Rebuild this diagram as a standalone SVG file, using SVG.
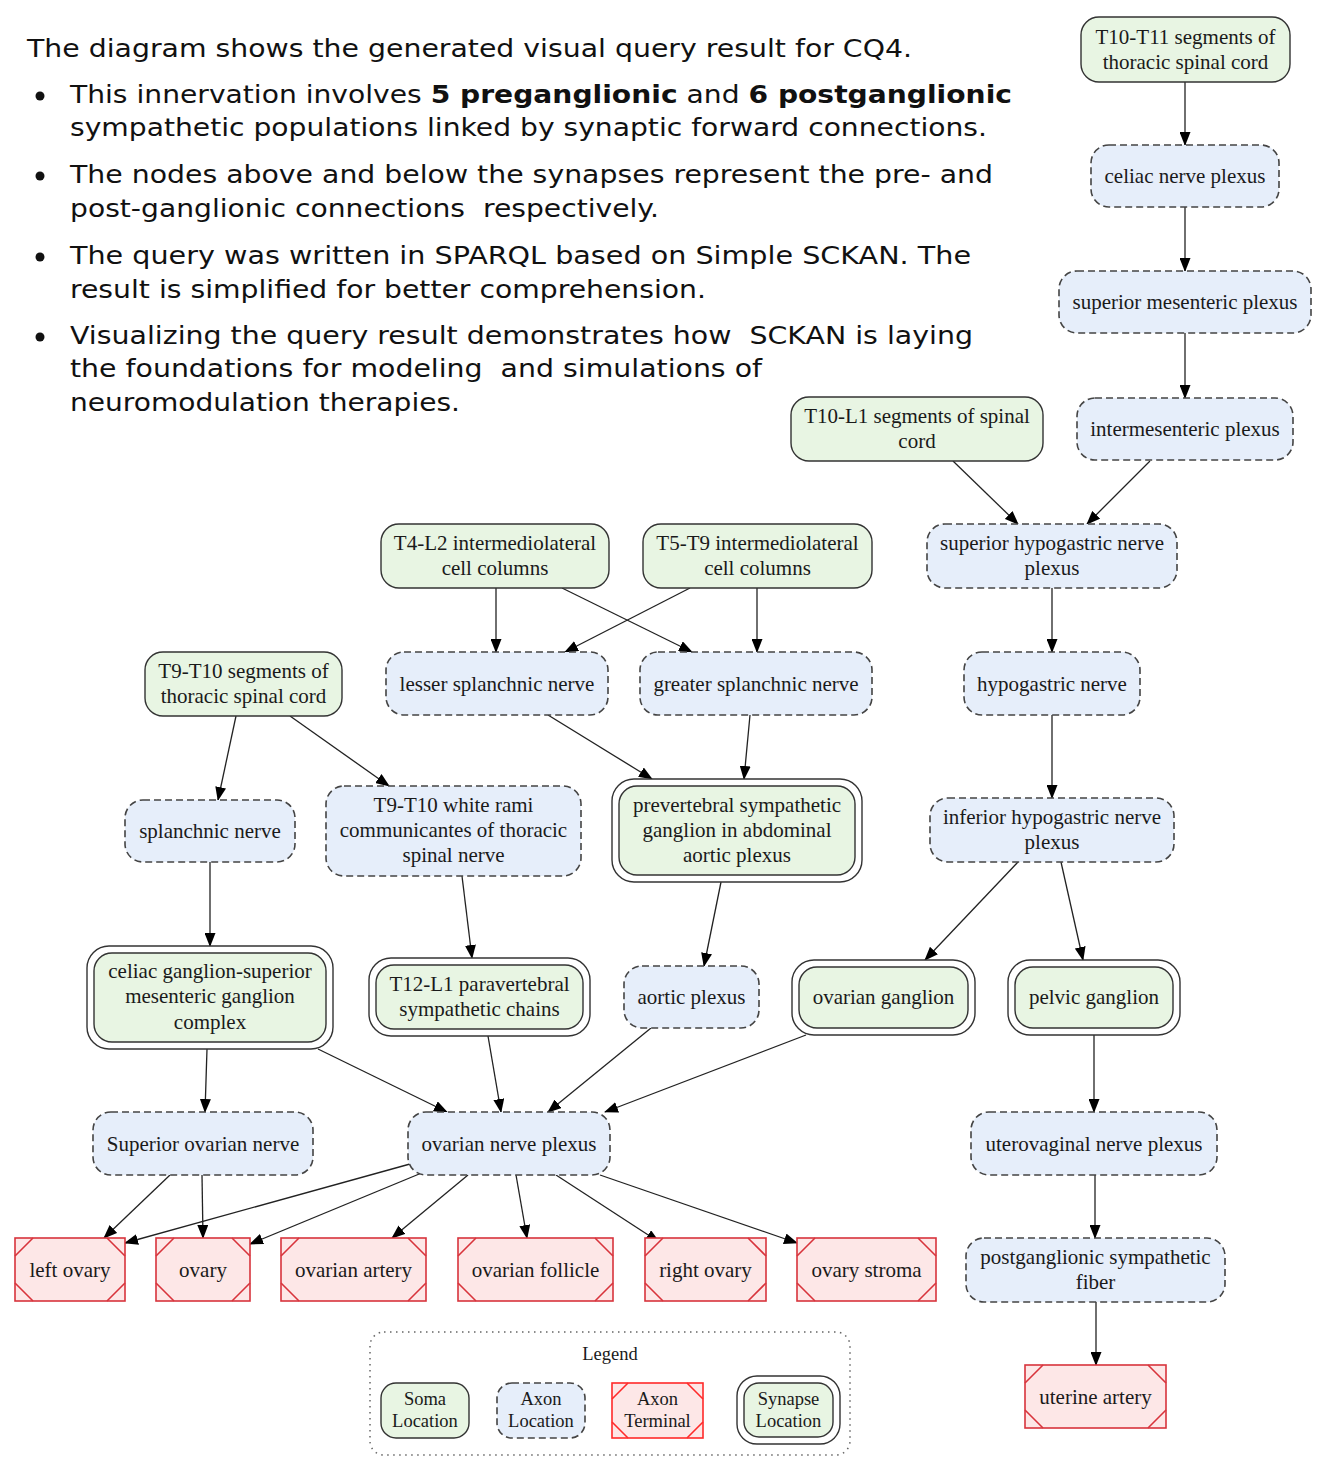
<svg xmlns="http://www.w3.org/2000/svg" width="1325" height="1463" viewBox="0 0 1325 1463">
<style>
.bg{fill:#ffffff}
.intro{font-family:"DejaVu Sans","Liberation Sans",sans-serif;font-size:25px;fill:#111}
.b{font-weight:bold}
.lbl{font-family:"Liberation Serif","Times New Roman",serif;font-size:21px;fill:#1a1a1a;text-anchor:middle}
.lg{font-family:"Liberation Serif","Times New Roman",serif;font-size:18.5px;fill:#1a1a1a;text-anchor:middle}
.soma{fill:#e8f5e3;stroke:#333;stroke-width:1.4}
.axon{fill:#e6eefa;stroke:#444;stroke-width:1.6;stroke-dasharray:7 4}
.synout{fill:#ffffff;stroke:#333;stroke-width:1.4}
.synin{fill:#e8f5e3;stroke:#333;stroke-width:1.4}
.term{fill:#fde7e7;stroke:#d8343c;stroke-width:1.6}
.corner{stroke:#d8343c;stroke-width:1.6;fill:none}
.legterm{fill:#fde7e7;stroke:#ff2a2a;stroke-width:1.6}
.legcorner{stroke:#ff2a2a;stroke-width:1.6;fill:none}
.edge{stroke:#222;stroke-width:1.3;fill:none;marker-end:url(#arr)}
.legbox{fill:none;stroke:#666;stroke-width:1.5;stroke-dasharray:1.5 4.5}
</style>
<defs>
<marker id="arr" markerUnits="userSpaceOnUse" markerWidth="14" markerHeight="11" refX="13" refY="5.5" orient="auto">
<path d="M0,0 L14,5.5 L0,11 z" fill="#000"/>
</marker>
</defs>
<rect class="bg" x="0" y="0" width="1325" height="1463"/>

<g id="intro-text">
<text class="intro" x="27" y="57" textLength="885" lengthAdjust="spacingAndGlyphs">The diagram shows the generated visual query result for CQ4.</text>
<circle cx="40" cy="96" r="4.5" fill="#111"/>
<circle cx="40" cy="176" r="4.5" fill="#111"/>
<circle cx="40" cy="257" r="4.5" fill="#111"/>
<circle cx="40" cy="337" r="4.5" fill="#111"/>
<text class="intro" x="70" y="103" textLength="942" lengthAdjust="spacingAndGlyphs">This innervation involves <tspan class="b">5 preganglionic</tspan> and <tspan class="b">6 postganglionic</tspan></text>
<text class="intro" x="70" y="136" textLength="917" lengthAdjust="spacingAndGlyphs">sympathetic populations linked by synaptic forward connections.</text>
<text class="intro" x="70" y="183" textLength="923" lengthAdjust="spacingAndGlyphs">The nodes above and below the synapses represent the pre- and</text>
<text class="intro" x="70" y="217" textLength="589" lengthAdjust="spacingAndGlyphs" style="white-space:pre">post-ganglionic connections  respectively.</text>
<text class="intro" x="70" y="264" textLength="901" lengthAdjust="spacingAndGlyphs">The query was written in SPARQL based on Simple SCKAN. The</text>
<text class="intro" x="70" y="298" textLength="636" lengthAdjust="spacingAndGlyphs">result is simplified for better comprehension.</text>
<text class="intro" x="70" y="344" textLength="903" lengthAdjust="spacingAndGlyphs" style="white-space:pre">Visualizing the query result demonstrates how  SCKAN is laying</text>
<text class="intro" x="70" y="377" textLength="692" lengthAdjust="spacingAndGlyphs" style="white-space:pre">the foundations for modeling  and simulations of</text>
<text class="intro" x="70" y="411" textLength="390" lengthAdjust="spacingAndGlyphs">neuromodulation therapies.</text>
</g>

<g id="connectors">
<line class="edge" x1="1185" y1="82" x2="1185" y2="145"/>
<line class="edge" x1="1185" y1="207" x2="1185" y2="271"/>
<line class="edge" x1="1185" y1="333" x2="1185" y2="398"/>
<line class="edge" x1="953" y1="461" x2="1018" y2="524"/>
<line class="edge" x1="1150" y1="461" x2="1087" y2="524"/>
<line class="edge" x1="1052" y1="588" x2="1052" y2="652"/>
<line class="edge" x1="1052" y1="715" x2="1052" y2="798"/>
<line class="edge" x1="1018" y1="862" x2="925" y2="960"/>
<line class="edge" x1="1061" y1="862" x2="1083" y2="960"/>
<line class="edge" x1="1094" y1="1035" x2="1094" y2="1112"/>
<line class="edge" x1="1095" y1="1175" x2="1095" y2="1238"/>
<line class="edge" x1="1096" y1="1302" x2="1096" y2="1365"/>
<line class="edge" x1="496" y1="588" x2="496" y2="652"/>
<line class="edge" x1="562" y1="588" x2="692" y2="652"/>
<line class="edge" x1="690" y1="588" x2="565" y2="652"/>
<line class="edge" x1="757" y1="588" x2="757" y2="652"/>
<line class="edge" x1="548" y1="715" x2="652" y2="779"/>
<line class="edge" x1="750" y1="715" x2="744" y2="779"/>
<line class="edge" x1="236" y1="716" x2="218" y2="800"/>
<line class="edge" x1="290" y1="716" x2="389" y2="786"/>
<line class="edge" x1="210" y1="862" x2="210" y2="946"/>
<line class="edge" x1="462" y1="876" x2="472" y2="958"/>
<line class="edge" x1="721" y1="882" x2="704" y2="966"/>
<line class="edge" x1="207" y1="1049" x2="205" y2="1112"/>
<line class="edge" x1="318" y1="1049" x2="447" y2="1112"/>
<line class="edge" x1="488" y1="1036" x2="501" y2="1112"/>
<line class="edge" x1="651" y1="1028" x2="548" y2="1112"/>
<line class="edge" x1="806" y1="1035" x2="605" y2="1112"/>
<line class="edge" x1="170" y1="1175" x2="104" y2="1238"/>
<line class="edge" x1="202" y1="1175" x2="203" y2="1238"/>
<line class="edge" x1="410" y1="1164" x2="125" y2="1243"/>
<line class="edge" x1="424" y1="1172" x2="250" y2="1244"/>
<line class="edge" x1="468" y1="1175" x2="392" y2="1238"/>
<line class="edge" x1="516" y1="1175" x2="527" y2="1238"/>
<line class="edge" x1="556" y1="1175" x2="659" y2="1242"/>
<line class="edge" x1="600" y1="1175" x2="797" y2="1243"/>
</g>

<!-- Soma nodes -->
<g id="n-t10t11">
<rect class="soma" x="1081" y="17" width="209" height="65" rx="18"/>
<text class="lbl" x="1185.5" y="44">T10-T11 segments of</text>
<text class="lbl" x="1185.5" y="69">thoracic spinal cord</text>
</g>
<g id="n-t10l1">
<rect class="soma" x="791" y="397" width="252" height="64" rx="18"/>
<text class="lbl" x="917" y="423">T10-L1 segments of spinal</text>
<text class="lbl" x="917" y="448">cord</text>
</g>
<g id="n-t4l2">
<rect class="soma" x="381" y="524" width="228" height="64" rx="18"/>
<text class="lbl" x="495" y="550">T4-L2 intermediolateral</text>
<text class="lbl" x="495" y="575">cell columns</text>
</g>
<g id="n-t5t9">
<rect class="soma" x="643" y="524" width="229" height="64" rx="18"/>
<text class="lbl" x="757.5" y="550">T5-T9 intermediolateral</text>
<text class="lbl" x="757.5" y="575">cell columns</text>
</g>
<g id="n-t9t10seg">
<rect class="soma" x="145" y="652" width="197" height="64" rx="18"/>
<text class="lbl" x="243.5" y="678">T9-T10 segments of</text>
<text class="lbl" x="243.5" y="703">thoracic spinal cord</text>
</g>

<!-- Axon nodes -->
<g id="n-celiacplexus">
<rect class="axon" x="1091" y="145" width="188" height="62" rx="18"/>
<text class="lbl" x="1185" y="183">celiac nerve plexus</text>
</g>
<g id="n-supmes">
<rect class="axon" x="1059" y="271" width="252" height="62" rx="18"/>
<text class="lbl" x="1185" y="309">superior mesenteric plexus</text>
</g>
<g id="n-intermes">
<rect class="axon" x="1077" y="398" width="216" height="62" rx="18"/>
<text class="lbl" x="1185" y="436">intermesenteric plexus</text>
</g>
<g id="n-suphypo">
<rect class="axon" x="927" y="524" width="250" height="64" rx="18"/>
<text class="lbl" x="1052" y="550">superior hypogastric nerve</text>
<text class="lbl" x="1052" y="575">plexus</text>
</g>
<g id="n-lesser">
<rect class="axon" x="386" y="652" width="222" height="63" rx="18"/>
<text class="lbl" x="497" y="691">lesser splanchnic nerve</text>
</g>
<g id="n-greater">
<rect class="axon" x="640" y="652" width="232" height="63" rx="18"/>
<text class="lbl" x="756" y="691">greater splanchnic nerve</text>
</g>
<g id="n-hypo">
<rect class="axon" x="964" y="652" width="176" height="63" rx="18"/>
<text class="lbl" x="1052" y="691">hypogastric nerve</text>
</g>
<g id="n-splanchnic">
<rect class="axon" x="125" y="800" width="170" height="62" rx="18"/>
<text class="lbl" x="210" y="838">splanchnic nerve</text>
</g>
<g id="n-whiterami">
<rect class="axon" x="326" y="786" width="255" height="90" rx="18"/>
<text class="lbl" x="453.5" y="812">T9-T10 white rami</text>
<text class="lbl" x="453.5" y="837">communicantes of thoracic</text>
<text class="lbl" x="453.5" y="862">spinal nerve</text>
</g>
<g id="n-infhypo">
<rect class="axon" x="930" y="798" width="244" height="64" rx="18"/>
<text class="lbl" x="1052" y="824">inferior hypogastric nerve</text>
<text class="lbl" x="1052" y="849">plexus</text>
</g>
<g id="n-aortic">
<rect class="axon" x="624" y="966" width="135" height="62" rx="18"/>
<text class="lbl" x="691.5" y="1004">aortic plexus</text>
</g>
<g id="n-supovnerve">
<rect class="axon" x="93" y="1112" width="220" height="63" rx="18"/>
<text class="lbl" x="203" y="1151">Superior ovarian nerve</text>
</g>
<g id="n-ovplexus">
<rect class="axon" x="408" y="1112" width="202" height="63" rx="18"/>
<text class="lbl" x="509" y="1151">ovarian nerve plexus</text>
</g>
<g id="n-uterovag">
<rect class="axon" x="971" y="1112" width="246" height="63" rx="18"/>
<text class="lbl" x="1094" y="1151">uterovaginal nerve plexus</text>
</g>
<g id="n-postgang">
<rect class="axon" x="966" y="1238" width="259" height="64" rx="18"/>
<text class="lbl" x="1095.5" y="1264">postganglionic sympathetic</text>
<text class="lbl" x="1095.5" y="1289">fiber</text>
</g>

<!-- Synapse nodes -->
<g id="n-prevert">
<rect class="synout" x="612" y="779" width="250" height="103" rx="22"/>
<rect class="synin" x="619" y="786" width="236" height="89" rx="18"/>
<text class="lbl" x="737" y="812">prevertebral sympathetic</text>
<text class="lbl" x="737" y="837">ganglion in abdominal</text>
<text class="lbl" x="737" y="862">aortic plexus</text>
</g>
<g id="n-celiacgang">
<rect class="synout" x="87" y="946" width="246" height="103" rx="22"/>
<rect class="synin" x="94" y="953" width="232" height="89" rx="18"/>
<text class="lbl" x="210" y="978">celiac ganglion-superior</text>
<text class="lbl" x="210" y="1003">mesenteric ganglion</text>
<text class="lbl" x="210" y="1029">complex</text>
</g>
<g id="n-t12l1">
<rect class="synout" x="369" y="958" width="221" height="78" rx="22"/>
<rect class="synin" x="376" y="965" width="207" height="64" rx="18"/>
<text class="lbl" x="479.5" y="991">T12-L1 paravertebral</text>
<text class="lbl" x="479.5" y="1016">sympathetic chains</text>
</g>
<g id="n-ovgang">
<rect class="synout" x="792" y="960" width="183" height="75" rx="22"/>
<rect class="synin" x="799" y="967" width="169" height="61" rx="18"/>
<text class="lbl" x="883.5" y="1004">ovarian ganglion</text>
</g>
<g id="n-pelvgang">
<rect class="synout" x="1008" y="960" width="172" height="75" rx="22"/>
<rect class="synin" x="1015" y="967" width="158" height="61" rx="18"/>
<text class="lbl" x="1094" y="1004">pelvic ganglion</text>
</g>

<!-- Terminal nodes -->
<g id="n-leftovary">
<rect class="term" x="15" y="1238" width="110" height="63"/>
<path class="corner" d="M15,1256 L33,1238 M107,1238 L125,1256 M125,1283 L107,1301 M33,1301 L15,1283"/>
<text class="lbl" x="70" y="1277">left ovary</text>
</g>
<g id="n-ovary">
<rect class="term" x="156" y="1238" width="94" height="63"/>
<path class="corner" d="M156,1256 L174,1238 M232,1238 L250,1256 M250,1283 L232,1301 M174,1301 L156,1283"/>
<text class="lbl" x="203" y="1277">ovary</text>
</g>
<g id="n-ovartery">
<rect class="term" x="281" y="1238" width="145" height="63"/>
<path class="corner" d="M281,1256 L299,1238 M408,1238 L426,1256 M426,1283 L408,1301 M299,1301 L281,1283"/>
<text class="lbl" x="353.5" y="1277">ovarian artery</text>
</g>
<g id="n-ovfollicle">
<rect class="term" x="458" y="1238" width="155" height="63"/>
<path class="corner" d="M458,1256 L476,1238 M595,1238 L613,1256 M613,1283 L595,1301 M476,1301 L458,1283"/>
<text class="lbl" x="535.5" y="1277">ovarian follicle</text>
</g>
<g id="n-rightovary">
<rect class="term" x="645" y="1238" width="121" height="63"/>
<path class="corner" d="M645,1256 L663,1238 M748,1238 L766,1256 M766,1283 L748,1301 M663,1301 L645,1283"/>
<text class="lbl" x="705.5" y="1277">right ovary</text>
</g>
<g id="n-ovstroma">
<rect class="term" x="797" y="1238" width="139" height="63"/>
<path class="corner" d="M797,1256 L815,1238 M918,1238 L936,1256 M936,1283 L918,1301 M815,1301 L797,1283"/>
<text class="lbl" x="866.5" y="1277">ovary stroma</text>
</g>
<g id="n-uterine">
<rect class="term" x="1025" y="1365" width="141" height="63"/>
<path class="corner" d="M1025,1383 L1043,1365 M1148,1365 L1166,1383 M1166,1410 L1148,1428 M1043,1428 L1025,1410"/>
<text class="lbl" x="1095.5" y="1404">uterine artery</text>
</g>

<!-- Legend -->
<g id="legend">
<rect class="legbox" x="370" y="1332" width="480" height="123" rx="14"/>
<text class="lg" x="610" y="1360">Legend</text>
<rect class="soma" x="381" y="1383" width="88" height="55" rx="15"/>
<text class="lg" x="425" y="1405">Soma</text>
<text class="lg" x="425" y="1427">Location</text>
<rect class="axon" x="497" y="1383" width="88" height="55" rx="15"/>
<text class="lg" x="541" y="1405">Axon</text>
<text class="lg" x="541" y="1427">Location</text>
<rect class="legterm" x="612" y="1383" width="91" height="55"/>
<path class="legcorner" d="M612,1399 L628,1383 M687,1383 L703,1399 M703,1422 L687,1438 M628,1438 L612,1422"/>
<text class="lg" x="657.5" y="1405">Axon</text>
<text class="lg" x="657.5" y="1427">Terminal</text>
<rect class="synout" x="737" y="1376" width="103" height="68" rx="20"/>
<rect class="synin" x="744" y="1383" width="89" height="54" rx="15"/>
<text class="lg" x="788.5" y="1405">Synapse</text>
<text class="lg" x="788.5" y="1427">Location</text>
</g>
</svg>
